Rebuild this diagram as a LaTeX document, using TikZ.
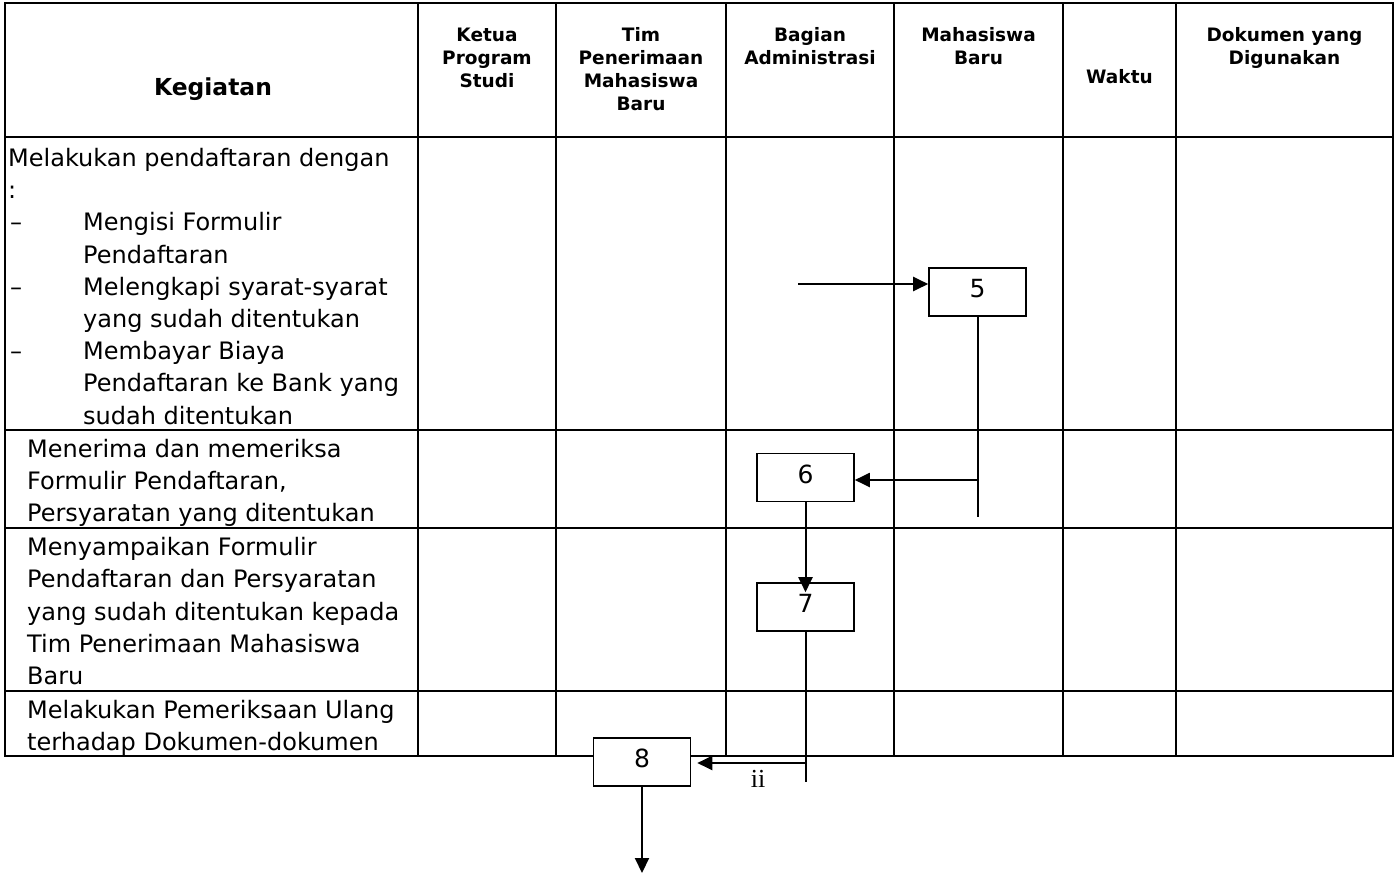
\documentclass[tikz,border=0pt]{standalone}
\usepackage{fontspec}
\setmainfont{DejaVu Sans}
\newfontfamily\romanfont{Liberation Serif}
\usetikzlibrary{arrows.meta}
\newcommand{\dashitem}{\makebox[75pt][l]{\hspace*{2pt}–}}
\newcommand{\indentitem}{\hspace*{75pt}}

\begin{document}
\begin{tikzpicture}[x=1pt,y=-1pt,
	grid/.style={line width=2.2pt,line cap=rect},
	head/.style={anchor=base,align=center,inner sep=0pt,font=\bfseries\fontsize{18.5}{22.7}\selectfont},
	body/.style={anchor=base west,align=left,inner sep=0pt,font=\fontsize{24}{32.2}\selectfont},
	stepbox/.style={draw,line width=1.6pt,fill=white,minimum width=97pt,minimum height=48pt,inner sep=0pt,text depth=7pt,font=\fontsize{25}{30}\selectfont},
	flow/.style={line width=2pt},
	arr/.style={flow,-{Triangle[length=15pt,width=14pt]}}]
	\useasboundingbox (0,0) rectangle (1395,873); % page
	\foreach \y in {3,137,430,528,691,756} \draw[grid] (5,\y) -- (1393,\y); % rows
	\foreach \x in {5,418,556,726,894,1063,1176,1393} \draw[grid] (\x,3) -- (\x,756); % columns
	% header (anchor = baseline of the last line)
	\node[head,font=\bfseries\fontsize{23.4}{28}\selectfont] (hKegiatan) at (213,95) {Kegiatan};
	\node[head] (hKetua) at (487,87) {Ketua\\Program\\Studi};
	\node[head] (hTim) at (641,110) {Tim\\Penerimaan\\Mahasiswa\\Baru};
	\node[head] (hAdmin) at (810,64) {Bagian\\Administrasi};
	\node[head] (hMaba) at (978.5,64) {Mahasiswa\\Baru};
	\node[head] (hWaktu) at (1119.5,83) {Waktu};
	\node[head] (hDokumen) at (1284.5,64) {Dokumen yang\\Digunakan};
	% kegiatan (anchor = baseline of the last line)
	\node[body] (k1) at (8,424.1) {Melakukan pendaftaran dengan\\:\\\dashitem Mengisi Formulir\\\indentitem Pendaftaran\\\dashitem Melengkapi syarat-syarat\\\indentitem yang sudah ditentukan\\\dashitem Membayar Biaya\\\indentitem Pendaftaran ke Bank yang\\\indentitem sudah ditentukan};
	\node[body] (k2) at (27,521.7) {Menerima dan memeriksa\\Formulir Pendaftaran,\\Persyaratan yang ditentukan};
	\node[body] (k3) at (27,684.5) {Menyampaikan Formulir\\Pendaftaran dan Persyaratan\\yang sudah ditentukan kepada\\Tim Penerimaan Mahasiswa\\Baru};
	\node[body] (k4) at (27,750.9) {Melakukan Pemeriksaan Ulang\\terhadap Dokumen-dokumen};
	% steps
	\node[stepbox] (s5) at (977.5,292) {5};
	\node[stepbox] (s6) at (805.5,477.5) {6};
	\node[stepbox] (s7) at (805.5,607) {7};
	\node[stepbox] (s8) at (642,762) {8};
	\coordinate (in5) at (798,284); % incoming
	\coordinate (end5) at (978,517);
	\coordinate (turn5) at (978,480);
	\coordinate (end7) at (807,782);
	\coordinate (turn7) at (807,763);
	\coordinate (out8) at (642,873); % outgoing
	\draw[arr] (in5) -- (in5 -| s5.west);
	\draw[flow] (s5.south) -- (s5.south |- end5);
	\draw[arr] (turn5) -- (turn5 -| s6.east);
	\draw[arr,shorten >=-10pt] (s6.south) -- (s7.north);
	\draw[flow] (s7.south) -- (s7.south |- end7);
	\draw[arr,shorten >=6pt] (turn7) -- (turn7 -| s8.east);
	\node[inner sep=0pt,font=\romanfont\fontsize{26}{30}\selectfont] (lblii) at (758,779) {ii};
	\draw[arr] (s8.south) -- (out8);
\end{tikzpicture}
\end{document}
